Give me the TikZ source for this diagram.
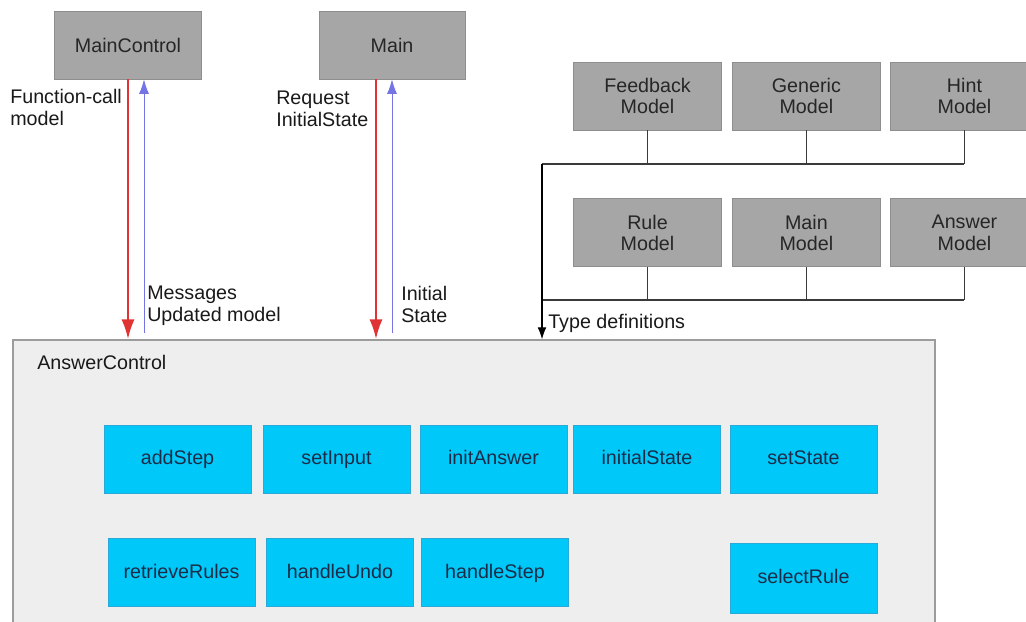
\documentclass[tikz,border=0pt]{standalone}
\usepackage{fontspec}
\setmainfont{Liberation Sans}
\usepackage{xcolor}
\usetikzlibrary{positioning,arrows.meta}

\definecolor{modelgray}{HTML}{A6A6A6}
\definecolor{modeledge}{HTML}{8E8E8E}
\definecolor{ctrlfill}{HTML}{EEEEEE}
\definecolor{ctrledge}{HTML}{9C9C9C}
\definecolor{funccyan}{HTML}{00C8F8}
\definecolor{funcedge}{HTML}{2AA8D8}
\definecolor{functext}{HTML}{1C2C48}
\definecolor{callred}{HTML}{E03434}
\definecolor{retblue}{HTML}{7474E4}
\definecolor{busline}{HTML}{3A3A3A}

\begin{document}
\begin{tikzpicture}[x=0.025cm, y=-0.025cm, font=\fontsize{14}{15.5}\selectfont,
  modelbox/.style={draw=modeledge, fill=modelgray, line width=0.6pt, align=center,
    text=black!85, minimum width=3.68cm, minimum height=1.7cm},
  funcbox/.style={draw=funcedge, fill=funccyan, line width=0.5pt, text=functext,
    text height=0.8em, text depth=0em, minimum width=3.68cm, minimum height=1.7cm},
  ctrlbox/.style={draw=ctrledge, fill=ctrlfill, line width=0.9pt,
    minimum width=23.05cm, minimum height=7.5cm},
  note/.style={align=left, inner sep=0pt, text=black!90},
  callarrow/.style={callred, line width=1.8pt, -{Latex[length=0.5cm, width=0.33cm]}},
  retarrow/.style={retblue, line width=0.6pt, -{Latex[length=0.36cm, width=0.25cm]}},
  typeline/.style={busline, line width=0.8pt}]
  \path[use as bounding box, clip] (0,0) rectangle (1026,621);

  % callers on top
  \node[modelbox] (mainctl) at (128,45) {MainControl};
  \node[modelbox, minimum width=3.65cm] (main) at (392,45) {Main};

  % model types
  \node[modelbox] (feedback) at (647.5,96) {Feedback\\Model};
  \node[modelbox, right=0.27cm of feedback] (generic) {Generic\\Model};
  \node[modelbox, right=0.25cm of generic] (hint) {Hint\\Model};
  \node[modelbox, below=1.7cm of feedback] (rule) {Rule\\Model};
  \node[modelbox, below=1.7cm of generic] (mainmodel) {Main\\Model};
  \node[modelbox, below=1.7cm of hint] (answer) {Answer\\Model};

  % the control component and its functions
  \node[ctrlbox] (answerctl) at (474,490) {};
  \node[note, anchor=west] (ctrllabel) at (37,362) {AnswerControl};

  \node[funcbox] (addstep) at (177.5,459) {addStep};
  \node[funcbox] (setinput) at (336.5,459) {setInput};
  \node[funcbox] (initanswer) at (493.5,459) {initAnswer};
  \node[funcbox] (initstate) at (647,459) {initialState};
  \node[funcbox] (setstate) at (803.5,459) {setState};
  \node[funcbox] (retrieve) at (181.5,572.5) {retrieveRules};
  \node[funcbox] (undo) at (340,572.5) {handleUndo};
  \node[funcbox] (handlestep) at (495,572.5) {handleStep};
  \node[funcbox, minimum height=1.75cm] (selectrule) at (803.5,578) {selectRule};

  % calls and replies
  \coordinate (mcret) at ([xshift=0.4cm]mainctl.south);
  \coordinate (mcall) at ([xshift=-0.4cm]main.south);
  \draw[callarrow] (mainctl.south) -- (mainctl.south |- answerctl.north);
  \draw[retarrow] ([yshift=0.15cm]mcret |- answerctl.north) -- (mcret);
  \draw[callarrow] (mcall) -- (mcall |- answerctl.north);
  \draw[retarrow] ([yshift=0.15cm]main.south |- answerctl.north) -- (main.south);

  \node[note, anchor=north west] (fcmodel) at (10,89) {Function-call\\model};
  \node[note, anchor=north west] (reqstate) at (276,91) {Request\\InitialState};
  \node[note, anchor=north west] (messages) at (147,286) {Messages\\Updated model};
  \node[note, anchor=north west] (initial) at (401,286) {Initial\\State};

  % type definitions bus
  \coordinate (topbus) at (542,164);
  \coordinate (botbus) at (542,300);
  \draw[typeline] (feedback.south) -- (feedback.south |- topbus);
  \draw[typeline] (generic.south) -- (generic.south |- topbus);
  \draw[typeline] (hint.south) -- (hint.south |- topbus);
  \draw[typeline] (topbus) -- (topbus -| hint.south);
  \draw[typeline] (rule.south) -- (rule.south |- botbus);
  \draw[typeline] (mainmodel.south) -- (mainmodel.south |- botbus);
  \draw[typeline] (answer.south) -- (answer.south |- botbus);
  \draw[typeline] (botbus) -- (botbus -| answer.south);
  \draw[typeline, black, -{Latex[length=0.3cm, width=0.22cm]}] (topbus) -- (topbus |- answerctl.north);
  \node[note, anchor=west] (typedefs) at (548,323) {Type definitions};
\end{tikzpicture}
\end{document}
